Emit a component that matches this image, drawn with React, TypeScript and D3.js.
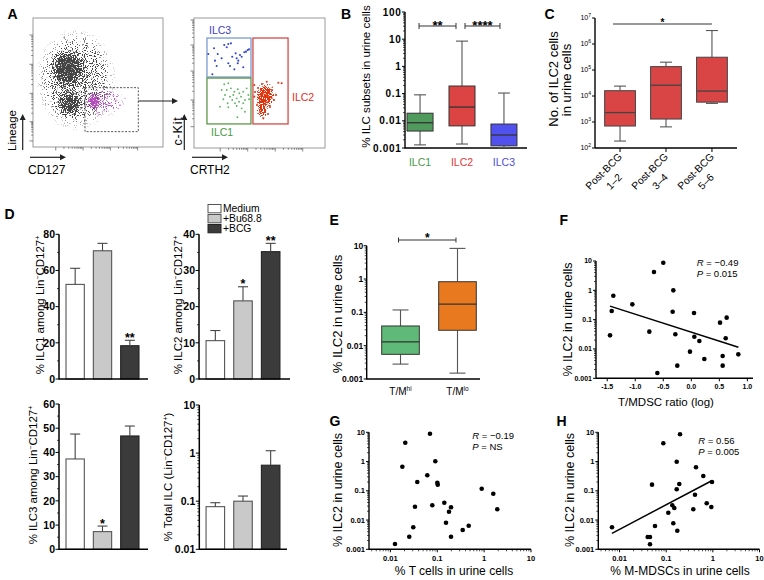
import React from "react";
import * as d3 from "d3";

const FONT = "'Liberation Sans', Arial, Helvetica, sans-serif";

// ===================== Panel A: flow cytometry (channel units 0–100) =====================
const flowTicksLeftY = [4.7, 19.6, 41.6, 64.1, 86.8];
const flowTicksLeftX = [17.5, 38.5, 59.5, 80.5];
const flowTicksRightY = [16.4, 36.9, 59.2, 79.2, 98.5];
const flowTicksRightX = [20, 41, 62, 83];

const linBlobCD127 = [33, 27, 28, 26.5];
const linBlobLineage = [52, 60, 33.5, 62];
const linBlobSpreadX = [36, 15, 11, 9];
const linBlobSpreadY = [46, 17, 11.5, 11];
const linBlobDensity = [0.42, 0.95, 0.95, 1];

const ilcBlobCD127 = [47, 55];
const ilcBlobLineage = [35, 35];
const ilcBlobSpreadX = [6, 20];
const ilcBlobSpreadY = [7, 14];
const ilcBlobDensity = [1, 0.32];
const ilcSparseCD127 = [52.8, 56.7, 59.2, 64.4, 66.9, 70.8, 61.8, 54.1, 50.2, 59.2, 65.6];
const ilcSparseLineage = [39, 37.8, 33.9, 36.4, 32.6, 37.8, 40.3, 28.7, 24.8, 42.9, 30];
const lineageGate = [40, 81, 11.9, 46];

const ilc3CRTH2 = [15.3, 23.1, 26.2, 28.2, 25, 18.1, 16, 21.1, 26.2, 29.2, 32.6, 33.8, 35.1, 36.4, 38.4, 39.7, 41, 42, 33.4, 30.8, 37.6, 17.3, 14, 10.9, 31.8, 27.5];
const ilc3CKit = [76.7, 79.2, 80, 80.5, 77.5, 72.3, 67.2, 69, 65.2, 70.2, 69, 67.2, 71.5, 70.2, 73.6, 74.1, 75.4, 75.9, 65.2, 60.5, 62.1, 63.1, 56.7, 72.3, 72.8, 63.1];
const ilc1CRTH2 = [23.1, 26.2, 25, 28.2, 30.8, 33.4, 34.6, 37.6, 40.2, 23.7, 27.5, 29.2, 32.6, 35.9, 38.9, 41.5, 19.8, 26.2, 32.6, 36.4, 38.9, 33.1, 22.4, 30, 34.4, 37.6, 25.7, 31.3, 42, 21.1];
const ilc1CKit = [49, 49.8, 44.6, 45.9, 43.3, 45.2, 42.1, 43.3, 45.9, 40.8, 39.5, 36.9, 38.2, 39.5, 36.9, 40.8, 31.8, 31.3, 32.3, 30.5, 27.9, 23.6, 37.5, 40.8, 35.6, 34.4, 34.4, 34.4, 37.5, 44.6];
const ilc2CRTH2 = [46, 55.5, 64.4, 66.9, 52.9, 54.2, 46, 48.9, 59.5, 61.1, 48.1, 58, 51.9, 62.6, 46.6, 56.5, 50.4];
const ilc2CKit = [48.5, 51, 50.2, 49.8, 22.8, 27.9, 39.5, 46.2, 44.6, 36.9, 33.1, 31.5, 49.2, 40.8, 43.1, 26.2, 27.7];
const ilc2BlobCRTH2 = [54.5, 52];
const ilc2BlobCKit = [40.5, 30];
const ilc2BlobSpreadX = [8.5, 5];
const ilc2BlobSpreadY = [10.5, 8];
const ilc2BlobDensity = [1, 0.75];
const gateILC3 = [9.9, 43.5, 54.6, 84.6];
const gateILC1 = [9.9, 43.5, 18.5, 53.8];
const gateILC2 = [45, 71.8, 18.5, 84.6];

// ===================== Panel B =====================
const bCats = ["ILC1", "ILC2", "ILC3"];
const bMin = [0.0013, 0.0014, 0.00105];
const bQ1 = [0.0042, 0.0065, 0.0012];
const bMed = [0.0085, 0.032, 0.003];
const bQ3 = [0.019, 0.19, 0.0076];
const bMax = [0.09, 8.5, 0.105];
const bTicks = [0.001, 0.01, 0.1, 1, 10, 100];
const bTickLabels = ["0.001", "0.01", "0.1", "1", "10", "100"];
const bSigFrom = ["ILC1", "ILC2"];
const bSigTo = ["ILC2", "ILC3"];
const bSigText = ["**", "****"];

// ===================== Panel C =====================
const cCatLine1 = ["Post-BCG", "Post-BCG", "Post-BCG"];
const cCatLine2 = ["1–2", "3–4", "5–6"];
const cMin = [185, 650, 5200];
const cQ1 = [700, 1300, 5800];
const cMed = [2300, 26000, 15500];
const cQ3 = [16000, 135000, 310000];
const cMax = [24000, 200000, 3300000];
const cExponents = [2, 3, 4, 5, 6, 7];

// ===================== Panel D =====================
const dGroups = ["Medium", "+Bu68.8", "+BCG"];
const d1Mean = [52.3, 70.9, 18.4];
const d1Sem = [8.9, 4.1, 3.0];
const d1Stars = ["", "", "**"];
const d2Mean = [10.6, 21.6, 35.2];
const d2Sem = [2.8, 3.9, 2.3];
const d2Stars = ["", "*", "**"];
const d3Mean = [37.3, 7.3, 46.8];
const d3Sem = [10.3, 2.3, 4.1];
const d3Stars = ["", "*", ""];
const d4Mean = [0.077, 0.1, 0.56];
const d4Sem = [0.016, 0.028, 0.56];
const d4Stars = ["", "", ""];
const d1Ticks = [0, 20, 40, 60, 80];
const d2Ticks = [0, 10, 20, 30, 40];
const d3Ticks = [0, 10, 20, 30, 40, 50, 60];
const d4Ticks = [0.01, 0.1, 1, 10];
const d4TickLabels = ["0.01", "0.1", "1", "10"];

// ===================== Panel E =====================
const eSup = ["hi", "lo"];
const eMin = [0.0028, 0.0015];
const eQ1 = [0.0055, 0.029];
const eMed = [0.013, 0.176];
const eQ3 = [0.039, 0.83];
const eMax = [0.118, 8.3];
const logTicks5 = [0.001, 0.01, 0.1, 1, 10];
const logTickLabels5 = ["0.001", "0.01", "0.1", "1", "10"];

// ===================== Panel F =====================
const fX = [-1.391, -1.42, -1.45, -1.052, -0.749, -0.666, -0.5, -0.606, -0.321, -0.333, -0.285, -0.25, -0.024, 0.048, 0.054, 0.143, 0.232, 0.512, 0.63, 0.613, 0.559, 0.559, 0.838];
const fY = [0.656, 0.197, 0.0292, 0.333, 0.0389, 4.21, 8.75, 0.00152, 0.998, 0.187, 0.0316, 0.0027, 0.0081, 0.168, 0.0262, 0.0187, 0.00455, 0.0789, 0.117, 0.0231, 0.00576, 0.0027, 0.00656];
const fFitX = [-1.45, 0.84];
const fFitY = [0.29, 0.0114];
const fXTicks = [-1.5, -1.0, -0.5, 0.0, 0.5, 1.0];

// ===================== Panel G =====================
const gX = [0.01255, 0.0253, 0.0308, 0.0335, 0.018, 0.0208, 0.0375, 0.0613, 0.07, 0.0784, 0.0909, 0.1003, 0.1023, 0.1414, 0.1537, 0.178, 0.1966, 0.1966, 0.349, 0.469, 0.888, 1.57, 1.91];
const gY = [0.00152, 0.0027, 0.00565, 0.0286, 0.667, 4.41, 0.2, 0.339, 8.95, 0.0319, 1.02, 0.189, 0.162, 0.0392, 0.0081, 0.0193, 0.0273, 0.0027, 0.00457, 0.0064, 0.118, 0.0796, 0.0233];
const xLogTicks = [0.01, 0.1, 1, 10];
const xLogTickLabels = ["0.01", "0.1", "1", "10"];

// ===================== Panel H =====================
const hX = [0.00688, 0.0401, 0.0449, 0.0449, 0.0575, 0.0496, 0.0867, 0.1976, 0.1679, 0.1909, 0.1679, 0.1109, 0.1351, 0.1491, 0.1419, 0.1729, 0.381, 0.414, 0.435, 0.624, 0.738, 0.927, 0.959];
const hY = [0.00565, 0.00263, 0.00263, 0.00148, 0.00626, 0.162, 4.21, 8.55, 0.989, 0.171, 0.1125, 0.0178, 0.0319, 0.0258, 0.00774, 0.00432, 0.0233, 0.0736, 0.636, 0.321, 0.0374, 0.0279, 0.2];
const hFitX = [0.00688, 0.945];
const hFitY = [0.00352, 0.221];

// ===================== helpers =====================
const isDecade = (t: number) => Math.abs(Math.log10(t) - Math.round(Math.log10(t))) < 1e-6;
const logMinor = (s: any) => s.ticks().filter((t: number) => !isDecade(t));

function RotText({ x, y, fs, children, anchor = "middle", ls = 0, fill = "#000" }: any) {
  return (
    <text transform={`translate(${x},${y}) rotate(-90)`} textAnchor={anchor} fontSize={fs} letterSpacing={ls} fill={fill}>
      {children}
    </text>
  );
}

function YAxis({ scale, x, ticks, labels, minors = [], fs, weight = "bold", ls = 0, len = 4, mlen = 2, gap = 1, sw = 1.4 }: any) {
  const [r0, r1] = scale.range();
  return (
    <g>
      {minors.map((t: number, i: number) => (
        <line key={"m" + i} x1={x - mlen} x2={x} y1={scale(t)} y2={scale(t)} stroke="#000" strokeWidth={0.7} />
      ))}
      {ticks.map((t: number, i: number) => (
        <g key={i}>
          <line x1={x - len} x2={x} y1={scale(t)} y2={scale(t)} stroke="#000" strokeWidth={1} />
          {labels ? (
            <text x={x - len - gap} y={scale(t)} dy="0.35em" textAnchor="end" fontSize={fs} fontWeight={weight} letterSpacing={ls}>
              {labels[i]}
            </text>
          ) : null}
        </g>
      ))}
      <line x1={x} x2={x} y1={r0 + 0.5} y2={r1} stroke="#000" strokeWidth={sw} />
    </g>
  );
}

function XAxis({ scale, y, x0, x1, ticks, labels, minors = [], fs, weight = "bold", len = 3, mlen = 2, base = 10, sw = 1.4 }: any) {
  return (
    <g>
      {minors.map((t: number, i: number) => (
        <line key={"m" + i} x1={scale(t)} x2={scale(t)} y1={y} y2={y + mlen} stroke="#000" strokeWidth={0.7} />
      ))}
      {ticks.map((t: number, i: number) => (
        <g key={i}>
          <line x1={scale(t)} x2={scale(t)} y1={y} y2={y + len} stroke="#000" strokeWidth={1} />
          <text x={scale(t)} y={y + base} textAnchor="middle" fontSize={fs} fontWeight={weight}>
            {labels[i]}
          </text>
        </g>
      ))}
      <line x1={x0} x2={x1} y1={y} y2={y} stroke="#000" strokeWidth={sw} />
    </g>
  );
}

function Box({ cx, w, capW, y, vals, fill, stroke = "#333", whisker = "#555" }: any) {
  const [mn, q1, md, q3, mx] = vals;
  return (
    <g>
      <line x1={cx} x2={cx} y1={y(mx)} y2={y(q3)} stroke={whisker} strokeWidth={1.1} />
      <line x1={cx} x2={cx} y1={y(q1)} y2={y(mn)} stroke={whisker} strokeWidth={1.1} />
      <line x1={cx - capW / 2} x2={cx + capW / 2} y1={y(mx)} y2={y(mx)} stroke={whisker} strokeWidth={1.1} />
      <line x1={cx - capW / 2} x2={cx + capW / 2} y1={y(mn)} y2={y(mn)} stroke={whisker} strokeWidth={1.1} />
      <rect x={cx - w / 2} y={y(q3)} width={w} height={y(q1) - y(q3)} fill={fill} stroke={stroke} strokeWidth={1} />
      <line x1={cx - w / 2} x2={cx + w / 2} y1={y(md)} y2={y(md)} stroke={stroke} strokeWidth={1.3} />
    </g>
  );
}

function Speckle({ id, color, seed, freq = 0.9 }: any) {
  return (
    <filter id={id} filterUnits="userSpaceOnUse" x={0} y={0} width={764} height={580} colorInterpolationFilters="sRGB">
      <feTurbulence type="fractalNoise" baseFrequency={freq} numOctaves={1} seed={seed} result="t" />
      <feColorMatrix in="t" type="matrix" values="0 0 0 0 0  0 0 0 0 0  0 0 0 0 0  1 0 0 0 0" result="n0" />
      <feComponentTransfer in="n0" result="n">
        <feFuncA type="linear" slope={3.6} intercept={-1.3} />
      </feComponentTransfer>
      <feComposite in="SourceAlpha" in2="n" operator="arithmetic" k1={0} k2={6} k3={5} k4={-5.5} result="m" />
      <feFlood floodColor={color} result="f" />
      <feComposite in="f" in2="m" operator="in" />
    </filter>
  );
}

function Grad({ id, d }: any) {
  return (
    <radialGradient id={id}>
      <stop offset="0" stopColor="#000" stopOpacity={d} />
      <stop offset="0.45" stopColor="#000" stopOpacity={d * 0.85} />
      <stop offset="1" stopColor="#000" stopOpacity={0} />
    </radialGradient>
  );
}

function Arrow({ x1, y1, x2, y2, head = 5, color = "#222" }: any) {
  const a = Math.atan2(y2 - y1, x2 - x1);
  const bx = x2 - head * Math.cos(a);
  const by = y2 - head * Math.sin(a);
  const px = Math.sin(a) * head * 0.5;
  const py = -Math.cos(a) * head * 0.5;
  return (
    <g>
      <line x1={x1} y1={y1} x2={bx} y2={by} stroke={color} strokeWidth={1.2} />
      <polygon points={`${x2},${y2} ${bx + px},${by + py} ${bx - px},${by - py}`} fill={color} />
    </g>
  );
}

function flowTickMarks(decades: number[], scale: any, fixed: number, vertical: boolean) {
  const out: any[] = [];
  decades.forEach((d, i) => {
    const next = decades[i + 1];
    const step = next !== undefined ? next - d : decades[1] - decades[0];
    const draw = (v: number, len: number, k: string) => {
      const p = scale(v);
      out.push(
        vertical ? (
          <line key={k} x1={fixed - len} x2={fixed} y1={p} y2={p} stroke="#555" strokeWidth={0.7} />
        ) : (
          <line key={k} x1={p} x2={p} y1={fixed} y2={fixed + len} stroke="#555" strokeWidth={0.7} />
        )
      );
    };
    draw(d, 3.5, "M" + i);
    if (next !== undefined) {
      for (let m = 2; m <= 9; m++) draw(d + step * Math.log10(m), 1.8, "m" + i + "-" + m);
    }
  });
  return out;
}

// ===================== Panels =====================
function PanelA() {
  const ax = d3.scaleLinear().domain([0, 100]).range([33, 163]);
  const ay = d3.scaleLinear().domain([0, 100]).range([147, 18]);
  const bx = d3.scaleLinear().domain([0, 100]).range([194, 325]);
  const by = d3.scaleLinear().domain([0, 100]).range([148, 18]);
  const sx = (s: any, v: number) => Math.abs(s(v) - s(0));
  const gateRect = (g: number[], xs: any, ys: any, stroke: string, dash?: string, sw = 1.2) => (
    <rect x={xs(g[0])} y={ys(g[3])} width={xs(g[1]) - xs(g[0])} height={ys(g[2]) - ys(g[3])} fill="none" stroke={stroke} strokeWidth={sw} strokeDasharray={dash} />
  );
  return (
    <g>
      <text x={7.5} y={18.5} fontSize={14} fontWeight="bold">A</text>
      {/* left plot */}
      <rect x={33} y={18} width={130} height={129} fill="#fff" stroke="#9a9a9a" strokeWidth={1} />
      <g filter="url(#spkGray)">
        {linBlobCD127.map((v, i) => (
          <ellipse key={i} cx={ax(v)} cy={ay(linBlobLineage[i])} rx={sx(ax, linBlobSpreadX[i])} ry={sx(ay, linBlobSpreadY[i])} fill={`url(#gLin${i})`} />
        ))}
      </g>
      <g filter="url(#spkPurple)">
        {ilcBlobCD127.map((v, i) => (
          <ellipse key={i} cx={ax(v)} cy={ay(ilcBlobLineage[i])} rx={sx(ax, ilcBlobSpreadX[i])} ry={sx(ay, ilcBlobSpreadY[i])} fill={`url(#gIlc${i})`} />
        ))}
      </g>
      {ilcSparseCD127.map((v, i) => (
        <circle key={i} cx={ax(v)} cy={ay(ilcSparseLineage[i])} r={0.6} fill="#c25cc8" />
      ))}
      {gateRect(lineageGate, ax, ay, "#555", "2,1.5", 1)}
      {flowTickMarks(flowTicksLeftY, ay, 33, true)}
      {flowTickMarks(flowTicksLeftX, ax, 147, false)}
      <Arrow x1={ax(lineageGate[1])} y1={101} x2={178} y2={101} head={6} />
      <Arrow x1={22.7} y1={150} x2={22.7} y2={114} head={6} />
      <Arrow x1={30} y1={157.3} x2={66} y2={157.3} head={6} />
      <RotText x={16} y={151} fs={11.5} anchor="start">Lineage</RotText>
      <text x={28} y={173.5} fontSize={12}>CD127</text>

      {/* right plot */}
      <rect x={194} y={18} width={131} height={130} fill="#fff" stroke="#9a9a9a" strokeWidth={1} />
      {flowTickMarks(flowTicksRightY, by, 194, true)}
      {flowTickMarks(flowTicksRightX, bx, 148, false)}
      {gateRect(gateILC3, bx, by, "#6f93cc")}
      {gateRect(gateILC1, bx, by, "#4f8f3a")}
      {gateRect(gateILC2, bx, by, "#d23a3a")}
      {ilc3CRTH2.map((v, i) => (
        <circle key={i} cx={bx(v)} cy={by(ilc3CKit[i])} r={1.05} fill="#3547cf" />
      ))}
      {ilc1CRTH2.map((v, i) => (
        <circle key={i} cx={bx(v)} cy={by(ilc1CKit[i])} r={0.95} fill="#62b466" />
      ))}
      <g filter="url(#spkRed)">
        {ilc2BlobCRTH2.map((v, i) => (
          <ellipse key={i} cx={bx(v)} cy={by(ilc2BlobCKit[i])} rx={sx(bx, ilc2BlobSpreadX[i])} ry={sx(by, ilc2BlobSpreadY[i])} fill={`url(#gRed${i})`} />
        ))}
      </g>
      {ilc2CRTH2.map((v, i) => (
        <circle key={i} cx={bx(v)} cy={by(ilc2CKit[i])} r={1.05} fill="#e2361d" />
      ))}
      <text x={209} y={33.5} fontSize={10.5} fill="#3a3fc8">ILC3</text>
      <text x={211} y={135.5} fontSize={10.5} fill="#3f9a3f">ILC1</text>
      <text x={292} y={100.5} fontSize={10.5} fill="#e0301e">ILC2</text>
      <Arrow x1={184.3} y1={150} x2={184.3} y2={114} head={6} />
      <Arrow x1={192} y1={157.3} x2={228} y2={157.3} head={6} />
      <RotText x={182} y={131} fs={12.5} ls={0.8}>c-Kit</RotText>
      <text x={190} y={173.5} fontSize={12}>CRTH2</text>
    </g>
  );
}

function PanelB() {
  const y = d3.scaleLog().domain([0.001, 100]).range([148, 12]);
  const x = d3.scaleBand().domain(bCats).range([402, 522]).paddingInner(0.38).paddingOuter(0.12);
  const w = x.bandwidth();
  const cx = (c: string) => (x(c) as number) + w / 2;
  const fills = ["#4f9a5c", "#dc4343", "#5151ef"];
  const labelCols = ["#4a9a48", "#e03a3a", "#4d4ddd"];
  const insets = [[-1, -6], [3, -4]];
  return (
    <g>
      <text x={341} y={18.5} fontSize={14} fontWeight="bold">B</text>
      <RotText x={369.5} y={76.5} fs={11.6}>% ILC subsets in urine cells</RotText>
      <YAxis scale={y} x={405} ticks={bTicks} labels={bTickLabels} minors={logMinor(y)} fs={10} ls={0.7} len={3} gap={0.5} />
      <line x1={405} x2={527} y1={148} y2={148} stroke="#000" strokeWidth={1.4} />
      {bCats.map((c, i) => (
        <g key={c}>
          <Box cx={cx(c)} w={w} capW={12} y={y} vals={[bMin[i], bQ1[i], bMed[i], bQ3[i], bMax[i]]} fill={fills[i]} />
          <text x={cx(c)} y={165.5} textAnchor="middle" fontSize={10.5} fill={labelCols[i]}>{c}</text>
        </g>
      ))}
      {bSigFrom.map((f, i) => {
        const x1 = cx(f) + insets[i][0];
        const x2 = cx(bSigTo[i]) + insets[i][1];
        return (
          <g key={i} stroke="#333" strokeWidth={1}>
            <line x1={x1} x2={x2} y1={26} y2={26} />
            <line x1={x1} x2={x1} y1={23} y2={29} />
            <line x1={x2} x2={x2} y1={23} y2={29} />
            <text x={(x1 + x2) / 2} y={30} textAnchor="middle" fontSize={13} fontWeight="bold" stroke="none" fill="#000">{bSigText[i]}</text>
          </g>
        );
      })}
    </g>
  );
}

function PanelC() {
  const y = d3.scaleLog().domain([100, 1e7]).range([148, 18]);
  const cats = cCatLine2;
  const x = d3.scaleBand().domain(cats).range([595, 737]).paddingInner(0.33).paddingOuter(0.21);
  const w = x.bandwidth();
  const cx = (c: string) => (x(c) as number) + w / 2;
  return (
    <g>
      <text x={544.5} y={18.5} fontSize={14} fontWeight="bold">C</text>
      <text transform="translate(557.5,79) rotate(-90)" textAnchor="middle" fontSize={13}>No. of ILC2 cells</text>
      <text transform="translate(570.5,80) rotate(-90)" textAnchor="middle" fontSize={13}>in urine cells</text>
      {cExponents.map((e) => (
        <g key={e}>
          <line x1={592} x2={595} y1={y(10 ** e)} y2={y(10 ** e)} stroke="#000" strokeWidth={1} />
          <text x={591} y={y(10 ** e)} dy="0.3em" textAnchor="end" fontSize={7}>
            10<tspan dy={-3} fontSize={5}>{e}</tspan>
          </text>
        </g>
      ))}
      <line x1={595} x2={595} y1={148} y2={18} stroke="#000" strokeWidth={1.4} />
      <line x1={595} x2={737} y1={148} y2={148} stroke="#000" strokeWidth={1.4} />
      {cats.map((c, i) => (
        <g key={c}>
          <Box cx={cx(c)} w={w} capW={12} y={y} vals={[cMin[i], cQ1[i], cMed[i], cQ3[i], cMax[i]]} fill="#d94444" stroke="#444" whisker="#555" />
          <line x1={cx(c)} x2={cx(c)} y1={148} y2={152} stroke="#000" strokeWidth={1} />
          <g transform={`translate(${cx(c)},${148}) rotate(-45)`}>
            <text x={-28} y={8.5} textAnchor="middle" fontSize={10.3}>{cCatLine1[i]}</text>
            <text x={-28} y={23} textAnchor="middle" fontSize={10.3}>{c}</text>
          </g>
        </g>
      ))}
      <line x1={cx(cats[0]) - 7} x2={cx(cats[2])} y1={24} y2={24} stroke="#333" strokeWidth={1} />
      <text x={(cx(cats[0]) - 7 + cx(cats[2])) / 2} y={26} textAnchor="middle" fontSize={10} fontWeight="bold">*</text>
    </g>
  );
}

const barFills = ["#ffffff", "#c9c9c9", "#3b3b3b"];
const barStrokes = ["#555", "#555", "#222"];

function BarChart({ band, y, means, sems, stars, ticks, labels, minors, ax, x1, title }: any) {
  const w = band.bandwidth();
  const [base] = y.range();
  return (
    <g>
      {title}
      {dGroups.map((g, i) => {
        const cx = band(g) + w / 2;
        const top = y(means[i] + sems[i]);
        return (
          <g key={g}>
            <rect x={band(g)} y={y(means[i])} width={w} height={base - y(means[i])} fill={barFills[i]} stroke={barStrokes[i]} strokeWidth={1.1} />
            <line x1={cx} x2={cx} y1={y(means[i])} y2={top} stroke="#444" strokeWidth={1.1} />
            <line x1={cx - 5} x2={cx + 5} y1={top} y2={top} stroke="#444" strokeWidth={1.1} />
            {stars[i] ? (
              <text x={cx} y={top + 1.5} textAnchor="middle" fontSize={12.5} fontWeight="bold">{stars[i]}</text>
            ) : null}
          </g>
        );
      })}
      <YAxis scale={y} x={ax} ticks={ticks} labels={labels} minors={minors} fs={10.5} len={3.5} gap={0.5} sw={1.5} />
      <line x1={ax} x2={x1} y1={base} y2={base} stroke="#000" strokeWidth={1.5} />
    </g>
  );
}

function PanelD() {
  const bandL = d3.scaleBand().domain(dGroups).range([61.5, 143.5]).paddingInner(0.33).paddingOuter(0.165);
  const bandR = d3.scaleBand().domain(dGroups).range([201.5, 284.5]).paddingInner(0.33).paddingOuter(0.165);
  const y1 = d3.scaleLinear().domain([0, 80]).range([379, 234.3]);
  const y2 = d3.scaleLinear().domain([0, 40]).range([379, 234.3]);
  const y3 = d3.scaleLinear().domain([0, 60]).range([549.3, 404]);
  const y4 = d3.scaleLog().domain([0.01, 10]).range([549.3, 405]);
  const sup = (s: string) => <tspan dy={-4} fontSize={7}>{s}</tspan>;
  const down = (s: string) => <tspan dy={4}>{s}</tspan>;
  return (
    <g>
      <text x={4.5} y={218.5} fontSize={14} fontWeight="bold">D</text>
      <BarChart band={bandL} y={y1} means={d1Mean} sems={d1Sem} stars={d1Stars} ticks={d1Ticks} labels={d1Ticks.map(String)} minors={[10, 30, 50, 70]} ax={59} x1={148}
        title={<RotText x={44} y={305} fs={11.5}>% ILC1 among Lin{sup("−")}{down("CD127")}{sup("+")}</RotText>} />
      <BarChart band={bandR} y={y2} means={d2Mean} sems={d2Sem} stars={d2Stars} ticks={d2Ticks} labels={d2Ticks.map(String)} minors={[5, 15, 25, 35]} ax={199} x1={290}
        title={<RotText x={182} y={305} fs={11.5}>% ILC2 among Lin{sup("−")}{down("CD127")}{sup("+")}</RotText>} />
      <BarChart band={bandL} y={y3} means={d3Mean} sems={d3Sem} stars={d3Stars} ticks={d3Ticks} labels={d3Ticks.map(String)} minors={[5, 15, 25, 35, 45, 55]} ax={59} x1={148}
        title={<RotText x={37} y={475} fs={11.5}>% ILC3 among Lin{sup("−")}{down("CD127")}{sup("+")}</RotText>} />
      <BarChart band={bandR} y={y4} means={d4Mean} sems={d4Sem} stars={d4Stars} ticks={d4Ticks} labels={d4TickLabels} minors={logMinor(y4)} ax={199.3} x1={287}
        title={<RotText x={172} y={477} fs={11.5}>% Total ILC (Lin{sup("−")}{down("CD127")}{sup("+")}{down(")")}</RotText>} />
      {dGroups.map((g, i) => (
        <g key={g}>
          <rect x={208} y={204.5 + i * 10} width={13} height={8.3} fill={barFills[i]} stroke={barStrokes[i]} strokeWidth={1} />
          <text x={223} y={211.7 + i * 10} fontSize={10.3}>{g}</text>
        </g>
      ))}
    </g>
  );
}

function PanelE() {
  const y = d3.scaleLog().domain([0.001, 10]).range([379, 245.7]);
  const x = d3.scaleBand().domain(eSup).range([376, 482]).paddingInner(0.34).paddingOuter(0.1);
  const w = x.bandwidth();
  const cx = (c: string) => (x(c) as number) + w / 2;
  const fills = ["#5fba77", "#e8791f"];
  const x1 = cx(eSup[0]) - 2;
  const x2 = cx(eSup[1]) - 1.5;
  return (
    <g>
      <text x={329.5} y={224.5} fontSize={14} fontWeight="bold">E</text>
      <RotText x={341.5} y={314} fs={13}>% ILC2 in urine cells</RotText>
      <YAxis scale={y} x={366.7} ticks={logTicks5} labels={logTickLabels5} minors={logMinor(y)} fs={8.5} len={3} gap={0.5} />
      <line x1={366.7} x2={480} y1={379} y2={379} stroke="#000" strokeWidth={1.4} />
      {eSup.map((c, i) => (
        <g key={c}>
          <Box cx={cx(c)} w={w} capW={16} y={y} vals={[eMin[i], eQ1[i], eMed[i], eQ3[i], eMax[i]]} fill={fills[i]} />
          <text x={cx(c)} y={395} textAnchor="middle" fontSize={10}>
            T/M<tspan dy={-4} fontSize={6.5}>{c}</tspan>
          </text>
        </g>
      ))}
      <g stroke="#333" strokeWidth={1}>
        <line x1={x1} x2={x2} y1={240} y2={240} />
        <line x1={x1} x2={x1} y1={237.5} y2={242.5} />
        <line x1={x2} x2={x2} y1={237.5} y2={242.5} />
      </g>
      <text x={(x1 + x2) / 2} y={242} textAnchor="middle" fontSize={12} fontWeight="bold">*</text>
    </g>
  );
}

function StatText({ x, y, r, p }: any) {
  return (
    <g fontSize={9.5}>
      <text x={x} y={y}><tspan fontStyle="italic">R</tspan> = {r}</text>
      <text x={x} y={y + 10.7}><tspan fontStyle="italic">P</tspan> = {p}</text>
    </g>
  );
}

function PanelF() {
  const x = d3.scaleLinear().domain([-1.7, 1.1]).range([596, 753]);
  const y = d3.scaleLog().domain([0.001, 10]).range([378.3, 261]);
  const line = d3.line<number>().x((d, i) => x(fFitX[i])).y((d, i) => y(fFitY[i]));
  return (
    <g>
      <text x={559.5} y={224.5} fontSize={14} fontWeight="bold">F</text>
      <RotText x={571.5} y={319.5} fs={12.5}>% ILC2 in urine cells</RotText>
      <YAxis scale={y} x={596} ticks={logTicks5} labels={logTickLabels5} minors={logMinor(y)} fs={7} len={3} gap={1} />
      <XAxis scale={x} y={378.3} x0={596} x1={753} ticks={fXTicks} labels={fXTicks.map((t) => t.toFixed(1))} fs={7} base={10.2} />
      <text x={666} y={406} textAnchor="middle" fontSize={11.5}>T/MDSC ratio (log)</text>
      {fX.map((v, i) => (
        <circle key={i} cx={x(v)} cy={y(fY[i])} r={2.3} fill="#000" />
      ))}
      <path d={line(fFitX) as string} stroke="#000" strokeWidth={1.5} fill="none" />
      <StatText x={696.7} y={266} r="−0.49" p="0.015" />
    </g>
  );
}

function ScatterLog({ letter, lx, ax, ax1, xs, ys, fit, title, titleX, yTitleX, stat }: any) {
  const x = d3.scaleLog().domain([0.0035, 10]).range([ax, ax1]);
  const y = d3.scaleLog().domain([0.001, 10]).range([549.3, 432.3]);
  const line = fit ? d3.line<number>().x((d, i) => x(fit[0][i])).y((d, i) => y(fit[1][i])) : null;
  return (
    <g>
      <text x={lx} y={425.5} fontSize={14} fontWeight="bold">{letter}</text>
      <RotText x={yTitleX} y={490} fs={12.5}>% ILC2 in urine cells</RotText>
      <YAxis scale={y} x={ax} ticks={logTicks5} labels={logTickLabels5} minors={logMinor(y)} fs={7.5} len={3} gap={1} />
      <XAxis scale={x} y={549.3} x0={ax} x1={ax1} ticks={xLogTicks} labels={xLogTickLabels} minors={logMinor(x)} fs={7.5} base={11.5} />
      <text x={titleX} y={575} textAnchor="middle" fontSize={12}>{title}</text>
      {xs.map((v: number, i: number) => (
        <circle key={i} cx={x(v)} cy={y(ys[i])} r={2.3} fill="#000" />
      ))}
      {line ? <path d={line(fit[0]) as string} stroke="#000" strokeWidth={1.5} fill="none" /> : null}
      {stat}
    </g>
  );
}

export default function App() {
  return (
    <svg width={764} height={580} style={{ position: "absolute", left: 0, top: 0, background: "#fff" }} fontFamily={FONT}>
      <defs>
        <Speckle id="spkGray" color="#444" seed={3} />
        <Speckle id="spkPurple" color="#b84fc0" seed={11} />
        <Speckle id="spkRed" color="#e0340f" seed={17} />
        {linBlobDensity.map((d, i) => <Grad key={i} id={`gLin${i}`} d={d} />)}
        {ilcBlobDensity.map((d, i) => <Grad key={i} id={`gIlc${i}`} d={d} />)}
        {ilc2BlobDensity.map((d, i) => <Grad key={i} id={`gRed${i}`} d={d} />)}
      </defs>
      <rect width={764} height={580} fill="#fff" />
      <PanelA />
      <PanelB />
      <PanelC />
      <PanelD />
      <PanelE />
      <PanelF />
      <ScatterLog letter="G" lx={329.5} ax={369} ax1={531} xs={gX} ys={gY} fit={null} title="% T cells in urine cells" titleX={454} yTitleX={342}
        stat={<StatText x={472.3} y={439} r="−0.19" p="NS" />} />
      <ScatterLog letter="H" lx={556.5} ax={598.3} ax1={759.5} xs={hX} ys={hY} fit={[hFitX, hFitY]} title="% M-MDSCs in urine cells" titleX={680} yTitleX={573.5}
        stat={<StatText x={698.3} y={444} r="0.56" p="0.005" />} />
    </svg>
  );
}
